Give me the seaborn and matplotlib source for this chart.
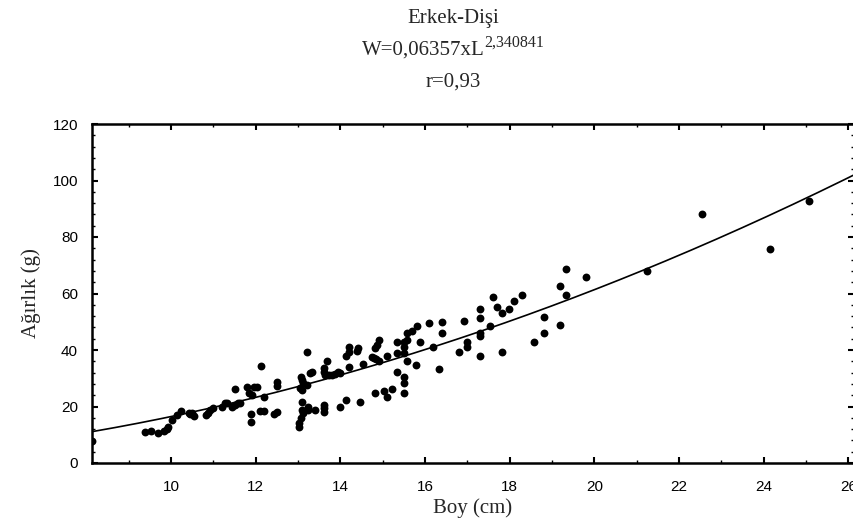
import numpy as np
import pandas as pd
import matplotlib
matplotlib.use("Agg")
import matplotlib.pyplot as plt
import seaborn as sns
from matplotlib.ticker import MultipleLocator

# ---- data ----
boy = [8.13, 9.39, 9.52, 9.70, 9.82, 9.90, 9.92, 10.02, 10.13, 10.24,
       10.41, 10.45, 10.50, 10.53, 10.82, 10.87, 10.92, 10.98, 11.20, 11.28,
       11.32, 11.43, 11.51, 11.58, 11.63, 11.51, 11.79, 11.95, 12.03, 11.83,
       11.91, 11.89, 11.89, 12.12, 12.20, 12.10, 12.20, 12.50, 12.50, 12.42,
       12.50, 13.06, 13.09, 13.12, 13.05, 13.09, 13.22, 13.28, 13.32, 13.20,
       13.09, 13.09, 13.11, 13.06, 13.03, 13.01, 13.24, 13.24, 13.40, 13.60,
       13.61, 13.61, 13.60, 13.61, 13.64, 13.69, 13.72, 13.80, 13.87, 13.95,
       13.99, 13.99, 14.13, 14.13, 14.19, 14.21, 14.21, 14.38, 14.42, 14.47,
       14.53, 14.82, 14.87, 14.90, 14.74, 14.78, 14.84, 14.92, 14.82, 15.02,
       15.11, 15.21, 15.11, 15.33, 15.33, 15.33, 15.49, 15.49, 15.50, 15.57,
       15.58, 15.69, 15.80, 15.58, 15.49, 15.49, 15.49, 15.79, 15.88, 16.10,
       16.18, 16.32, 16.40, 16.40, 16.91, 16.79, 16.98, 16.99, 17.30, 17.30,
       17.30, 17.30, 17.30, 17.52, 17.60, 17.69, 17.81, 17.82, 17.99, 18.11,
       18.29, 18.58, 18.80, 18.80, 19.19, 19.32, 19.32, 19.19, 19.79, 21.23,
       22.53, 24.15, 25.07]
agirlik = [7.9, 11.1, 11.3, 10.7, 11.3, 11.9, 12.8, 15.2, 17.0, 18.5,
           17.8, 17.2, 17.6, 16.7, 17.0, 17.8, 18.8, 19.6, 19.7, 21.1,
           21.3, 19.9, 20.5, 21.1, 21.3, 26.1, 27.0, 26.8, 26.8, 24.7,
           24.1, 17.3, 14.6, 34.3, 23.5, 18.5, 18.5, 28.6, 27.4, 17.5,
           17.9, 30.3, 29.4, 28.4, 26.4, 25.8, 39.2, 32.0, 32.3, 27.6,
           21.7, 18.8, 17.6, 15.8, 14.1, 12.8, 19.9, 18.8, 18.8, 20.5,
           19.3, 18.2, 33.5, 32.3, 31.2, 36.2, 31.2, 31.2, 31.5, 32.3,
           32.0, 19.9, 22.3, 37.9, 39.4, 41.2, 34.1, 39.8, 40.6, 21.7,
           35.0, 40.6, 41.8, 43.5, 37.6, 37.1, 36.7, 36.2, 24.9, 25.6,
           23.5, 26.1, 37.9, 42.9, 38.8, 32.3, 41.2, 39.0, 42.9, 43.5,
           46.1, 46.8, 48.5, 36.2, 30.5, 28.2, 24.9, 34.7, 42.9, 49.4,
           41.2, 33.2, 50.0, 46.1, 50.4, 39.4, 42.9, 41.2, 54.4, 51.2,
           46.1, 45.0, 38.0, 48.5, 58.7, 55.1, 53.2, 39.4, 54.4, 57.5,
           59.5, 42.9, 51.8, 46.1, 62.7, 59.4, 68.8, 48.7, 65.7, 68.1,
           88.0, 75.9, 92.6]

# power curve W = a * L^b as drawn in the reference
curve_a = 0.207
curve_b = 1.90

x_ticks = [10, 12, 14, 16, 18, 20, 22, 24, 26]
y_ticks = [0, 20, 40, 60, 80, 100, 120]

title_line1 = "Erkek-Dişi"
title_eq_base = "W=0,06357xL"
title_eq_exp = "2,340841"
title_line3 = "r=0,93"
x_label = "Boy (cm)"
y_label = "Ağırlık (g)"

df = pd.DataFrame({"Boy": boy, "Agirlik": agirlik})

# ---- style ----
sns.set_style("ticks")
plt.rcParams["font.family"] = ["Liberation Sans", "DejaVu Sans"]

fig = plt.figure(figsize=(8.54, 5.31), dpi=100)
ax = fig.add_axes([92 / 854, 68 / 531, 762 / 854, 339 / 531])

xmin, xmax = 8.13, 26.13
xs = np.linspace(xmin, xmax, 300)
curve = pd.DataFrame({"x": xs, "y": curve_a * xs ** curve_b})

sns.lineplot(data=curve, x="x", y="y", ax=ax, color="black", linewidth=1.2)
sns.scatterplot(data=df, x="Boy", y="Agirlik", ax=ax, color="black",
                s=32, linewidth=0, clip_on=True)

ax.set_xlim(xmin, xmax)
ax.set_ylim(0, 120)
ax.set_xticks(x_ticks)
ax.set_yticks(y_ticks)
ax.xaxis.set_minor_locator(MultipleLocator(1))
ax.yaxis.set_minor_locator(MultipleLocator(4))
ax.tick_params(which="both", direction="in", top=True, right=True,
               colors="black", labelsize=11)
ax.tick_params(which="major", length=4, width=1.5)
ax.tick_params(which="minor", length=2, width=1.0)
ax.tick_params(axis="x", which="both", pad=12)
ax.tick_params(axis="y", which="both", pad=10)

for side in ["left", "bottom", "top"]:
    ax.spines[side].set_linewidth(1.8)
    ax.spines[side].set_color("black")
ax.spines["right"].set_visible(False)

ax.set_xlabel(x_label, fontsize=15, family="Liberation Serif", labelpad=3)
ax.set_ylabel(y_label, fontsize=15, family="Liberation Serif", labelpad=8)

serif = "Liberation Serif"
cx = 453 / 854
fig.text(cx, 1 - 18 / 531, title_line1, ha="center", va="center",
         fontsize=15, family=serif)
fig.text(cx, 1 - 82 / 531, title_line3, ha="center", va="center",
         fontsize=15, family=serif)

# equation line with a superscript exponent, centred as a whole
fig.canvas.draw()
renderer = fig.canvas.get_renderer()
base = fig.text(0, 1 - 50 / 531, title_eq_base, ha="left", va="center",
                fontsize=15, family=serif)
expo = fig.text(0, 1 - 43 / 531, title_eq_exp, ha="left", va="center",
                fontsize=11.5, family=serif)
wb = base.get_window_extent(renderer).width / fig.bbox.width
we = expo.get_window_extent(renderer).width / fig.bbox.width
left = cx - (wb + we) / 2
base.set_x(left)
expo.set_x(left + wb)

fig.savefig("out.png", dpi=100)
